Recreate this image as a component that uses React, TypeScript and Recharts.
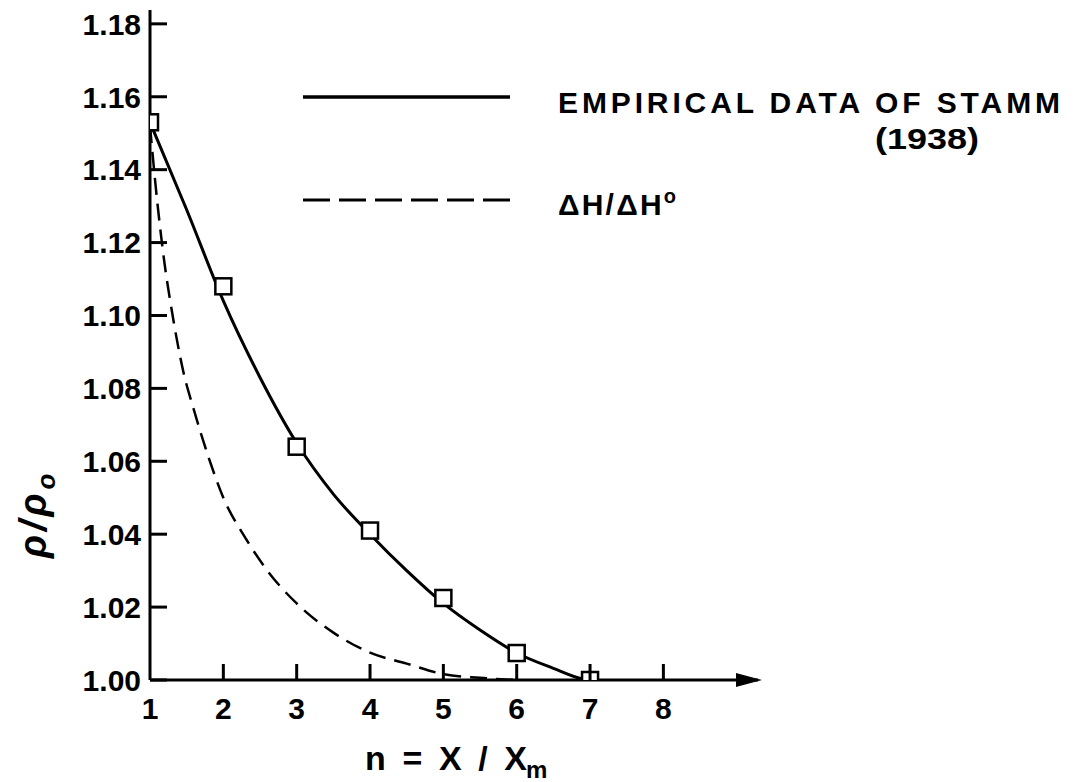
import { LineChart, Line, XAxis, YAxis } from "recharts";

// Stamm (1938) empirical points (squares), n = x / xm
const stammN = [1, 2, 3, 4, 5, 6, 7];
const stammRatio = [1.153, 1.108, 1.064, 1.041, 1.0225, 1.0074, 1.0];

const fitN = [1, 1.5, 2, 2.5, 3, 3.5, 4, 4.5, 5, 5.5, 6, 6.5, 6.9, 7];
const fitRatio = [
  1.153, 1.129, 1.104, 1.083, 1.065, 1.051, 1.04, 1.03, 1.021, 1.0137, 1.0074,
  1.0032, 1.0003, 1.0,
];

// dH / dH0 curve (dashed)
const heatN = [1, 1.1, 1.2, 1.3, 1.45, 1.6, 1.8, 2, 2.3, 2.6, 3, 3.5, 4, 4.5, 5, 5.5, 6];
const heatRatio = [
  1.152, 1.131, 1.114, 1.101, 1.085, 1.074, 1.061, 1.05, 1.039, 1.03, 1.021,
  1.013, 1.0075, 1.0045, 1.0016, 1.0006, 1.0,
];

const xTicks = [1, 2, 3, 4, 5, 6, 7, 8];
const yTicks = [1.0, 1.02, 1.04, 1.06, 1.08, 1.1, 1.12, 1.14, 1.16, 1.18];

const stammData = stammN.map((n, i) => ({ n, ratio: stammRatio[i] }));
const fitData = fitN.map((n, i) => ({ n, ratio: fitRatio[i] }));
const heatData = heatN.map((n, i) => ({ n, ratio: heatRatio[i] }));

const FONT = '"Liberation Sans", Arial, sans-serif';

const YTick = (props: any) => {
  const { x, y, payload } = props;
  return (
    <g>
      <line x1={x} x2={x + 17} y1={y} y2={y} stroke="#000" strokeWidth={3} />
      <text
        x={x - 9}
        y={y}
        dy="0.36em"
        textAnchor="end"
        fontFamily={FONT}
        fontWeight="bold"
        fontSize={30}
        fill="#000"
      >
        {Number(payload.value).toFixed(2)}
      </text>
    </g>
  );
};

const XTick = (props: any) => {
  const { x, y, payload } = props;
  return (
    <g>
      {payload.value !== 1 && (
        <line x1={x} x2={x} y1={y} y2={y - 16} stroke="#000" strokeWidth={3} />
      )}
      <text
        x={x}
        y={y + 39}
        textAnchor="middle"
        fontFamily={FONT}
        fontWeight="bold"
        fontSize={30}
        fill="#000"
      >
        {payload.value}
      </text>
    </g>
  );
};

const squareDot = (props: any) => {
  const { cx, cy, index } = props;
  return (
    <rect
      key={`sq-${index}`}
      x={cx - 8}
      y={cy - 8}
      width={16}
      height={16}
      fill="#fff"
      stroke="#000"
      strokeWidth={2.5}
    />
  );
};

export default function App() {
  return (
    <div
      style={{
        position: "absolute",
        left: 0,
        top: 0,
        width: 1075,
        height: 782,
        background: "#fff",
      }}
    >
      <LineChart
        width={1075}
        height={782}
        margin={{ top: 10, right: 317, left: 90, bottom: 62 }}
      >
        <XAxis
          type="number"
          dataKey="n"
          domain={[1, 9.29]}
          ticks={xTicks}
          allowDataOverflow
          height={40}
          tickSize={0}
          tickMargin={0}
          tickLine={false}
          axisLine={{ stroke: "#000", strokeWidth: 3 }}
          tick={<XTick />}
        />
        <YAxis
          type="number"
          dataKey="ratio"
          domain={[1.0, 1.1838]}
          ticks={yTicks}
          allowDataOverflow
          width={60}
          tickSize={0}
          tickMargin={0}
          tickLine={false}
          axisLine={{ stroke: "#000", strokeWidth: 3 }}
          tick={<YTick />}
        />
        <Line
          data={heatData}
          dataKey="ratio"
          type="monotone"
          stroke="#000"
          strokeWidth={2.5}
          strokeDasharray="17 9"
          dot={false}
          isAnimationActive={false}
        />
        <Line
          data={fitData}
          dataKey="ratio"
          type="monotone"
          stroke="#000"
          strokeWidth={3}
          dot={false}
          isAnimationActive={false}
        />
        <Line
          data={stammData}
          dataKey="ratio"
          stroke="none"
          dot={squareDot}
          isAnimationActive={false}
        />
      </LineChart>

      <svg
        width={1075}
        height={782}
        style={{ position: "absolute", left: 0, top: 0, pointerEvents: "none" }}
      >
        {/* arrow on the x axis */}
        <polygon points="736,673 762,680 736,687" fill="#000" />

        {/* legend */}
        <line x1={303} x2={510} y1={97} y2={97} stroke="#000" strokeWidth={3.5} />
        <line
          x1={303}
          x2={510}
          y1={200}
          y2={200}
          stroke="#000"
          strokeWidth={3}
          strokeDasharray="27 9"
        />
        <g fontFamily={FONT} fontWeight="bold" fill="#000">
          <text x={558} y={113} fontSize={30} textLength={502} lengthAdjust="spacing">
            EMPIRICAL DATA OF STAMM
          </text>
          <text x={875} y={149} fontSize={30} textLength={104} lengthAdjust="spacingAndGlyphs">
            (1938)
          </text>
          <text x={558} y={215} fontSize={30} textLength={118} lengthAdjust="spacing">
            ΔH/ΔH
            <tspan dy={-12} fontSize={20}>
              o
            </tspan>
          </text>

          {/* x axis title */}
          <text x={365} y={770} fontSize={34} textLength={162} lengthAdjust="spacing">
            n = X / X
          </text>
          <text x={526} y={778} fontSize={24}>
            m
          </text>

          {/* y axis title */}
          <g transform="translate(46,558) rotate(-90)">
            <text x={0} y={0} fontSize={38} fontStyle="italic" letterSpacing={4}>
              ρ/ρ
              <tspan dy={9} fontSize={26}>
                o
              </tspan>
            </text>
          </g>
        </g>
      </svg>
    </div>
  );
}
